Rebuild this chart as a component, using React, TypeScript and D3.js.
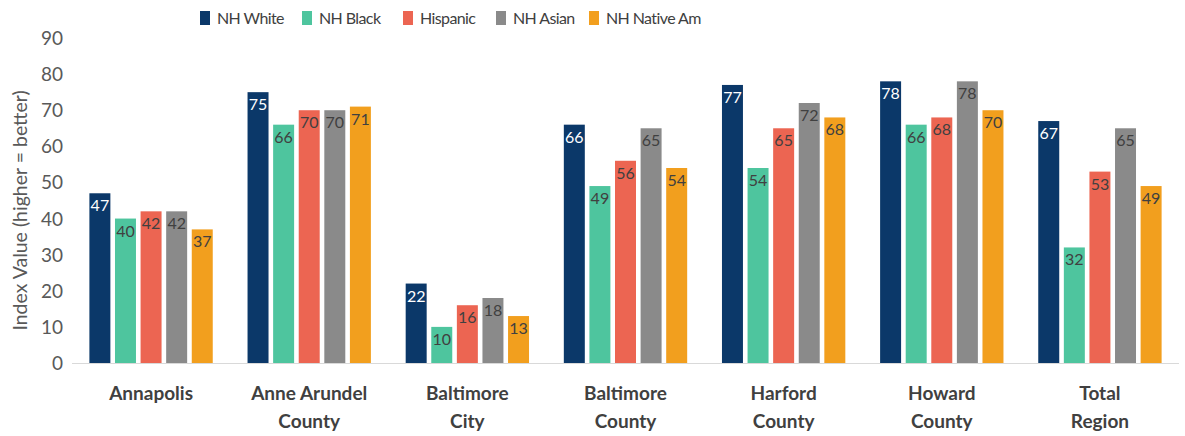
import React from "react";
import * as d3 from "d3";

const categories: string[][] = [
  ["Annapolis"],
  ["Anne Arundel", "County"],
  ["Baltimore", "City"],
  ["Baltimore", "County"],
  ["Harford", "County"],
  ["Howard", "County"],
  ["Total", "Region"],
];
const seriesNames = ["NH White", "NH Black", "Hispanic", "NH Asian", "NH Native Am"];
const seriesColors = ["#0B3869", "#4EC59E", "#EC6552", "#8A8A8A", "#F29F1E"];
const labelColors = ["#FFFFFF", "#404040", "#404040", "#404040", "#404040"];
const nhWhite = [47, 75, 22, 66, 77, 78, 67];
const nhBlack = [40, 66, 10, 49, 54, 66, 32];
const hispanic = [42, 70, 16, 56, 65, 68, 53];
const nhAsian = [42, 70, 18, 65, 72, 78, 65];
const nhNative = [37, 71, 13, 54, 68, 70, 49];
const yTicks = [0, 10, 20, 30, 40, 50, 60, 70, 80, 90];

const series = [nhWhite, nhBlack, hispanic, nhAsian, nhNative];

export default function App() {
  const W = 1185, H = 436;
  const left = 72, right = 1179, top = 38, bottom = 363;
  const font = "Lato, 'Open Sans', sans-serif";
  const x0 = d3.scaleBand<number>().domain(d3.range(categories.length)).range([left, right]).paddingInner(0.22).paddingOuter(0.11);
  const x1 = d3.scaleBand<number>().domain(d3.range(series.length)).range([0, x0.bandwidth()]).paddingInner(0.18);
  const y = d3.scaleLinear().domain([0, 90]).range([bottom, top]);
  const legendX = [200, 302, 403, 496, 589];
  return (
    <svg width={W} height={H} style={{ position: "absolute", left: 0, top: 0, background: "#fff" }} fontFamily={font}>
      {seriesNames.map((n, i) => (
        <g key={n}>
          <rect x={legendX[i]} y={11} width={10} height={14} fill={seriesColors[i]} />
          <text x={legendX[i] + 17} y={24} fontSize={16} letterSpacing={-0.6} fill="#404040">{n}</text>
        </g>
      ))}
      {yTicks.map((t) => (
        <text key={t} x={63} y={y(t) + 7} textAnchor="end" fontSize={19} fill="#595959">{t}</text>
      ))}
      <text transform={`translate(27,${(top + bottom) / 2 + 10}) rotate(-90)`} textAnchor="middle" fontSize={19.5} fill="#595959">
        Index Value (higher = better)
      </text>
      <line x1={left} x2={right} y1={bottom + 0.5} y2={bottom + 0.5} stroke="#D9D9D9" strokeWidth={1} />
      {categories.map((c, ci) => (
        <g key={ci} transform={`translate(${x0(ci)},0)`}>
          {series.map((s, si) => {
            const bx = x1(si)!;
            const v = s[ci];
            return (
              <g key={si}>
                <rect x={bx} y={y(v)} width={x1.bandwidth()} height={bottom - y(v)} fill={seriesColors[si]} />
                <text x={bx + x1.bandwidth() / 2} y={y(v) + 18} textAnchor="middle" fontSize={16} fill={labelColors[si]}>{v}</text>
              </g>
            );
          })}
          {c.map((line, li) => (
            <text key={li} x={x0.bandwidth() / 2} y={400 + li * 28} textAnchor="middle" fontSize={19} fontWeight="bold" fill="#404040">{line}</text>
          ))}
        </g>
      ))}
    </svg>
  );
}
